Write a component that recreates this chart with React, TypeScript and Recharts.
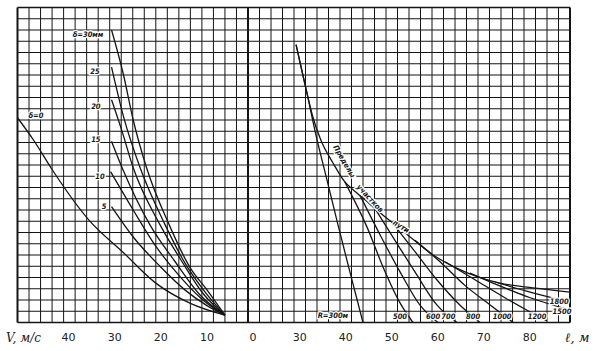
import React from 'react';
import { LineChart, Line, XAxis, YAxis, ReferenceDot, ReferenceLine } from 'recharts';

// Left panel: V, m/s (reversed axis), curves for ice thickness delta
const d0V = [50, 46.5, 42.5, 34.5, 27, 20, 12.5, 5];
const d0Y = [18.2, 16.2, 13.6, 9.1, 6.2, 3.5, 1.7, 0.65];
const d5V = [29.6, 24.9, 19.1, 13.7, 8.9, 5];
const d5Y = [10.3, 7.6, 5.0, 2.9, 1.5, 0.65];
const d10V = [29.8, 24.9, 20.2, 14.7, 9.8, 5];
const d10Y = [13.4, 10.0, 6.9, 4.05, 2.0, 0.65];
const d15V = [29.6, 27.4, 21.3, 15.8, 10.4, 5];
const d15Y = [16.1, 13.85, 8.7, 5.4, 2.45, 0.65];
const d20V = [29.6, 27.4, 24.9, 19.1, 14.3, 9.8, 5];
const d20Y = [19.8, 17.1, 13.75, 8.7, 5.4, 2.6, 0.65];
const d25V = [29.6, 27.0, 23.4, 18, 13.7, 9.3, 5];
const d25Y = [22.7, 18.3, 13.75, 8.7, 5.3, 2.7, 0.65];
const d30V = [29.6, 27.0, 24.9, 22.0, 16.9, 12.6, 8.9, 5];
const d30Y = [26.0, 22.0, 18.0, 13.75, 8.5, 4.9, 2.9, 0.65];

// Right panel: l, m ; envelope and curves for radius R
const envL = [29.2, 31.4, 32.9, 34.6, 37.2, 39.8, 41.6, 44.2, 47.45, 50.7, 54.0, 59.0, 64.8, 73.5, 80.7, 88.75];
const envY = [24.7, 20.7, 18.2, 16.2, 14.2, 12.5, 11.8, 10.9, 9.75, 8.7, 7.6, 6.0, 4.7, 3.5, 3.07, 2.7];
const r300L = [29.2, 31.4, 33.5, 35.9, 38.3, 40.9, 43.75];
const r300Y = [24.7, 20.7, 16.7, 12.7, 8.7, 4.5, 0];
const r500L = [39.8, 44.6, 48.1, 51.8, 54.6];
const r500Y = [12.5, 8.5, 4.94, 1.74, 0];
const r600L = [43.1, 47.45, 51.8, 56.1, 60.05];
const r600Y = [11.3, 7.8, 4.5, 1.56, 0];
const r700L = [46.4, 50.7, 55.05, 59.8, 64.2];
const r700Y = [10.1, 7.3, 4.5, 1.56, 0];
const r800L = [50.05, 55.05, 59.8, 64.8, 69.2];
const r800Y = [8.9, 6.3, 3.8, 1.56, 0];
const r1000L = [55.05, 60.5, 65.9, 71.4, 76.4];
const r1000Y = [7.3, 5.4, 3.3, 1.56, 0];
const r1200L = [61.6, 68.1, 74.6, 80.1, 83.75];
const r1200Y = [5.4, 3.8, 2.2, 0.93, 0.13];
const r1500L = [67.0, 73.5, 80.1, 88.75];
const r1500Y = [4.4, 3.25, 2.2, 1.1];
const r1800L = [72.45, 80.1, 88.75];
const r1800Y = [3.6, 2.7, 1.8];

const leftTicks = [40, 30, 20, 10, 0];
const rightTicks = [30, 40, 50, 60, 70, 80];

const deltaLabels = [
  { v: 34.7, y: 25.6, t: 'δ=30мм' },
  { v: 33.2, y: 22.3, t: '25' },
  { v: 33.0, y: 19.2, t: '20' },
  { v: 33.0, y: 16.2, t: '15' },
  { v: 32.1, y: 12.95, t: '10' },
  { v: 31.2, y: 10.3, t: '5' },
  { v: 46.0, y: 18.4, t: 'δ=0' },
];

const radiusLabels = [
  { l: 37.2, y: 0.6, t: 'R=300м' },
  { l: 51.8, y: 0.5, t: '500' },
  { l: 59.0, y: 0.5, t: '600' },
  { l: 62.3, y: 0.5, t: '700' },
  { l: 67.7, y: 0.5, t: '800' },
  { l: 74.0, y: 0.5, t: '1000' },
  { l: 81.6, y: 0.5, t: '1200' },
  { l: 87.0, y: 0.95, t: '1500' },
  { l: 86.4, y: 1.85, t: '1800' },
];

const envText = [
  { l: 39.6, y: 14.3, a: 60, t: 'Пределы' },
  { l: 45.2, y: 11.0, a: 47, t: 'участков' },
  { l: 52.0, y: 8.5, a: 32, t: 'пути' },
];

const toPts = (xs: number[], ys: number[]) => xs.map((x, i) => ({ x, y: ys[i] }));

const INK = '#151515';
const gridH = Array.from({ length: 29 }, (_, i) => i);
const gridLeft = Array.from({ length: 21 }, (_, i) => i * 2.5);
const gridRight = Array.from({ length: 29 }, (_, i) => 18.75 + i * 2.5);

const tickStyle = { fill: '#222', fontSize: 11, fontFamily: 'DejaVu Sans' };

const smallText = (t: string, rotate = 0) => (props: any) => (
  <text
    x={props.cx}
    y={props.cy}
    textAnchor="middle"
    dominantBaseline="middle"
    fontSize={7.5}
    fontStyle="italic"
    fontWeight="bold"
    fontFamily="DejaVu Sans Condensed"
    fill={INK}
    stroke="#fff"
    strokeWidth={2.5}
    paintOrder="stroke"
    transform={rotate ? `rotate(${rotate} ${props.cx} ${props.cy})` : undefined}
  >
    {t}
  </text>
);

const leftSeries = [
  [d0V, d0Y], [d5V, d5Y], [d10V, d10Y], [d15V, d15Y], [d20V, d20Y], [d25V, d25Y], [d30V, d30Y],
];
const rightSeries = [
  [envL, envY], [r300L, r300Y], [r500L, r500Y], [r600L, r600Y], [r700L, r700Y],
  [r800L, r800Y], [r1000L, r1000Y], [r1200L, r1200Y], [r1500L, r1500Y], [r1800L, r1800Y],
];

const gridLines = (xs: number[], thick: number[]) => [
  ...gridH.map((y) => (
    <ReferenceLine key={'h' + y} y={y} stroke={INK} strokeWidth={y === 0 || y === 28 ? 1.6 : 1} />
  )),
  ...xs.map((x) => (
    <ReferenceLine key={'v' + x} x={x} stroke={INK} strokeWidth={thick.includes(x) ? 2 : 1} />
  )),
];

export default function App() {
  return (
    <div style={{ position: 'absolute', left: 0, top: 0, width: 602, height: 351, background: '#fff' }}>
      <div style={{ position: 'absolute', left: 0, top: 0 }}>
        <LineChart width={264} height={351} margin={{ top: 7.5, right: 16, bottom: 0.5, left: 17.5 }}>
          <XAxis
            type="number"
            dataKey="x"
            domain={[0, 50]}
            reversed
            ticks={leftTicks}
            interval={0}
            height={28}
            tickSize={0}
            tickMargin={11}
            axisLine={false}
            tickLine={false}
            tick={{ ...tickStyle, dx: 5 }}
            allowDataOverflow
          />
          <YAxis type="number" domain={[0, 28]} hide allowDataOverflow />
          {gridLines(gridLeft, [0, 50])}
          {leftSeries.map(([xs, ys], i) => (
            <Line
              key={i}
              data={toPts(xs, ys)}
              dataKey="y"
              type="monotone"
              stroke={INK}
              strokeWidth={1.3}
              dot={false}
              isAnimationActive={false}
            />
          ))}
          {deltaLabels.map((d, i) => (
            <ReferenceDot key={i} x={d.v} y={d.y} r={0} shape={smallText(d.t)} />
          ))}
        </LineChart>
      </div>
      <div style={{ position: 'absolute', left: 248, top: 0 }}>
        <LineChart width={354} height={351} margin={{ top: 7.5, right: 32, bottom: 0.5, left: 0 }}>
          <XAxis
            type="number"
            dataKey="x"
            domain={[18.75, 88.75]}
            ticks={rightTicks}
            interval={0}
            height={28}
            tickSize={0}
            tickMargin={11}
            axisLine={false}
            tickLine={false}
            tick={tickStyle}
            allowDataOverflow
          />
          <YAxis type="number" domain={[0, 28]} hide allowDataOverflow />
          {gridLines(gridRight, [18.75, 88.75])}
          {rightSeries.map(([xs, ys], i) => (
            <Line
              key={i}
              data={toPts(xs, ys)}
              dataKey="y"
              type="monotone"
              stroke={INK}
              strokeWidth={1.3}
              dot={false}
              isAnimationActive={false}
            />
          ))}
          {radiusLabels.map((d, i) => (
            <ReferenceDot key={i} x={d.l} y={d.y} r={0} shape={smallText(d.t)} />
          ))}
          {envText.map((d, i) => (
            <ReferenceDot key={'e' + i} x={d.l} y={d.y} r={0} shape={smallText(d.t, d.a)} />
          ))}
        </LineChart>
      </div>
      <span
        style={{
          position: 'absolute', left: 6, top: 331, fontFamily: 'DejaVu Serif', fontStyle: 'italic',
          fontSize: 12, color: '#222', whiteSpace: 'nowrap',
        }}
      >
        V, м/с
      </span>
      <span
        style={{
          position: 'absolute', left: 565, top: 330, fontFamily: 'DejaVu Serif', fontStyle: 'italic',
          fontSize: 13, color: '#222', whiteSpace: 'nowrap',
        }}
      >
        ℓ, м
      </span>
    </div>
  );
}
